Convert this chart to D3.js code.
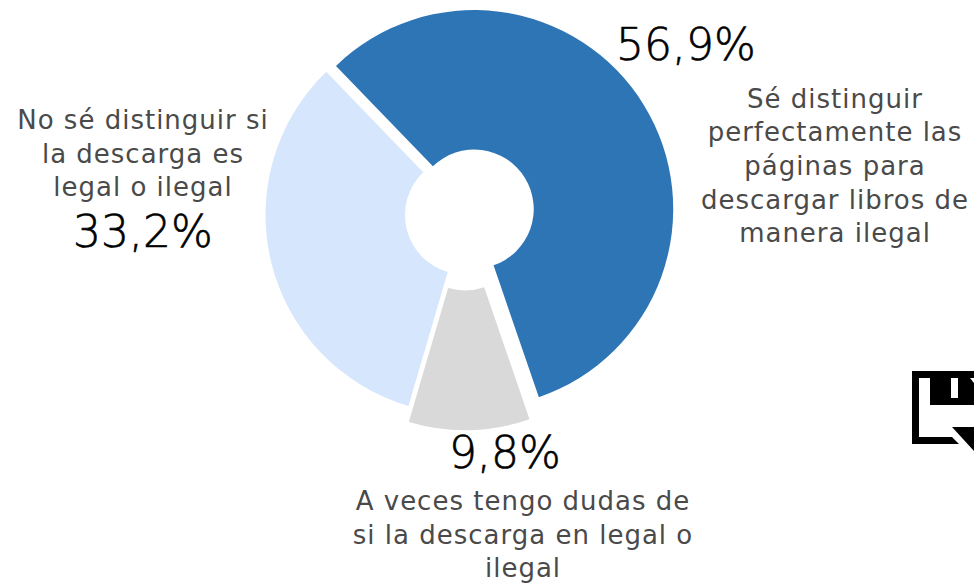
<!DOCTYPE html>
<html lang="es">
<head>
  <meta charset="utf-8">
  <script src="https://d3js.org/d3.v7.min.js"></script>
  <style>
    body { margin: 0; background: #fff; overflow: hidden; }
    svg text { font-family: "DejaVu Sans", sans-serif; text-anchor: middle; }
    .lab { fill: #4a4a4a; font-size: 26px; letter-spacing: 1px; }
    .val { fill: #000; stroke: #000; stroke-width: 0.6px; font-size: 44px; font-weight: 200; }
  </style>
</head>
<body>
  <script>
    var categories = ["Sé distinguir perfectamente las páginas para descargar libros de manera ilegal",
                      "A veces tengo dudas de si la descarga en legal o ilegal",
                      "No sé distinguir si la descarga es legal o ilegal"];
    var values = [56.9, 9.8, 33.2];
    var valueLabels = ["56,9%", "9,8%", "33,2%"];
    var colors = ["#2e75b6", "#d9d9d9", "#d6e6fc"];
    var explode = [11.4, 16, 0];
    var labelLines = [
      ["Sé distinguir", "perfectamente las", "páginas para", "descargar libros de", "manera ilegal"],
      ["A veces tengo dudas de", "si la descarga en legal o", "ilegal"],
      ["No sé distinguir si", "la descarga es", "legal o ilegal"]
    ];
    // text anchors: [x of lines, baseline of first line, x of value, baseline of value]
    var labelPos = [[835, 107.7, 686, 60], [523, 510, 505, 468], [143, 129, 143, 247]];

    var svg = d3.select("body").append("svg").attr("width", 974).attr("height", 583);
    var cx = 464.5, cy = 215;

    var pie = d3.pie().sort(null).value(function(d) { return d; })
      .startAngle(-44 * Math.PI / 180).endAngle(316 * Math.PI / 180);
    var arc = d3.arc().innerRadius(59.5).outerRadius(199);

    var g = svg.append("g").attr("transform", "translate(" + cx + "," + cy + ")");
    g.selectAll("path").data(pie(values)).enter().append("path")
      .attr("d", arc)
      .attr("fill", function(d, i) { return colors[i]; })
      .attr("transform", function(d, i) {
        var a = (d.startAngle + d.endAngle) / 2;
        return "translate(" + (Math.sin(a) * explode[i]) + "," + (-Math.cos(a) * explode[i]) + ")";
      });

    labelLines.forEach(function(lines, i) {
      lines.forEach(function(t, j) {
        svg.append("text").attr("class", "lab")
          .attr("x", labelPos[i][0]).attr("y", labelPos[i][1] + j * 33.6).text(t);
      });
      svg.append("text").attr("class", "val")
        .attr("x", labelPos[i][2]).attr("y", labelPos[i][3]).text(valueLabels[i]);
    });

    // save icon, cut by the right edge
    var icon = svg.append("g");
    icon.append("path").attr("fill", "#000").attr("d", "M912,371H974V405H930V378H919V437H952L959,444H912Z");
    icon.append("path").attr("fill", "#fff").attr("d", "M951,378H958V398H951Z");
    icon.append("path").attr("fill", "#fff").attr("d", "M970,378H974V383Z");
    icon.append("path").attr("fill", "#000").attr("d", "M952,427H974V451Z");
  </script>
</body>
</html>
